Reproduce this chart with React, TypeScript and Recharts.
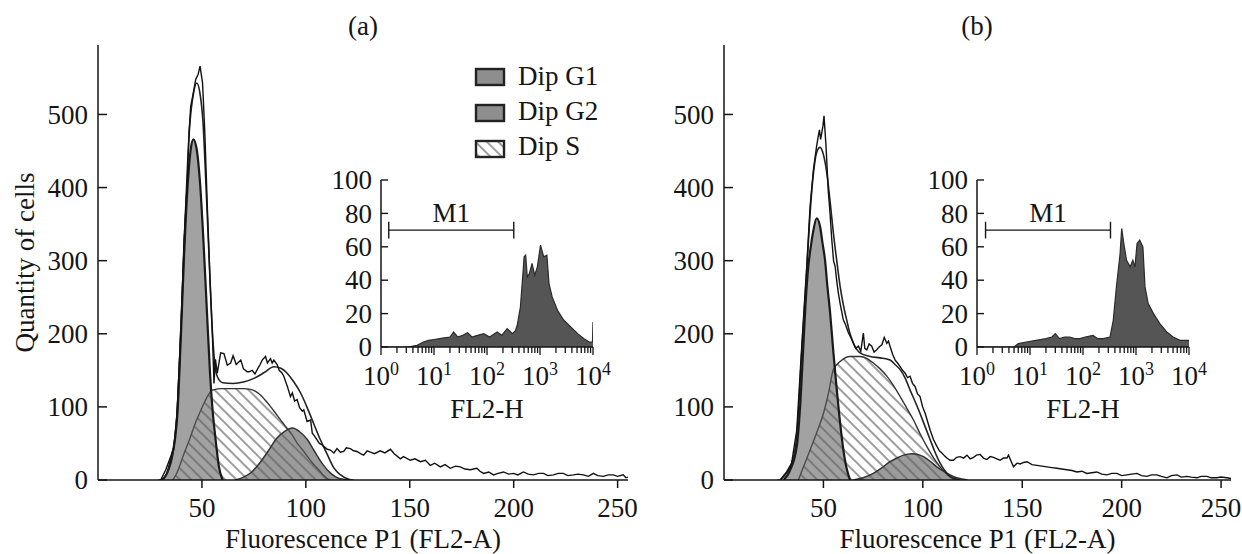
import { Area, ComposedChart, Line, ReferenceLine, XAxis, YAxis } from "recharts";

const FONT = '"Liberation Serif", "Times New Roman", serif';
const INK = "#151515";
const FS = 27;

// panel (a): DNA histogram, channel / cells
const rawA: [number, number][] = [
  [29, 0], [30.2, 0], [32.6, 14], [35, 32], [36.5, 45], [38, 90], [40, 210], [41.4, 329], [43, 411], [43.8, 475],
  [44.6, 511], [45.9, 530], [47, 548], [48.2, 555], [49.1, 566], [50.3, 543], [51.4, 475], [52.6, 374], [53.9, 274],
  [55, 201], [55.8, 132], [56.5, 165], [57.4, 146], [59, 174], [60.6, 173], [62.2, 157], [63.8, 160], [65, 170],
  [66.5, 158], [68.7, 164], [70, 152], [71.8, 148], [72.6, 148], [74.2, 150], [75.5, 145], [76.6, 151], [78, 158],
  [79, 164], [80.6, 169], [81.5, 160], [83, 166], [83.8, 160], [84.6, 164], [86.2, 158], [87.2, 150], [88.6, 146],
  [89.4, 142], [91.1, 128], [92.6, 114], [93.5, 119], [94.6, 108], [95.8, 110], [97, 99], [98.3, 94], [99, 96],
  [100.6, 80], [102.3, 82], [103.1, 64], [104.2, 60], [105.4, 55], [106.5, 50], [107.9, 48], [108.6, 46], [110.3, 42],
  [111.8, 41], [113.5, 37], [115, 43], [116.6, 38], [118.2, 39], [119.5, 44], [121.4, 43], [123, 40], [124.6, 39],
  [126.3, 36], [127.8, 34], [129.5, 40], [131.1, 38], [133, 36], [135.8, 40], [138, 37], [140.7, 42], [142.5, 36],
  [145.5, 29], [147, 32], [150.3, 27], [152.5, 29], [155.1, 25], [157.5, 27], [159.9, 20], [162, 23], [164.7, 18],
  [167, 21], [169.5, 16], [172, 19], [174.3, 18], [176.5, 15], [179.1, 14], [182.3, 16], [183.8, 12], [185.5, 9],
  [188, 11], [190.3, 7], [192.5, 9], [195.1, 11], [197.5, 8], [199.9, 9], [202, 7], [204.7, 11], [207, 8], [209.5, 7],
  [212, 9], [214.3, 9], [216.5, 6], [219.1, 7], [221.5, 9], [223.9, 9], [226, 6], [228.7, 7], [231, 8], [233.5, 7],
  [236, 5], [238.3, 9], [240.5, 6], [243.1, 5], [245.5, 7], [247.9, 7], [250, 5], [252.7, 7], [254, 3], [255, 4],
];
const fitA: [number, number][] = [
  [30, 0], [32, 4], [34, 14], [36, 35], [38, 90], [40, 215], [42, 360], [44, 480], [46, 530], [47.5, 543], [49, 530],
  [50.5, 490], [52, 400], [53.5, 300], [55, 205], [56.6, 150], [58, 138], [60, 133], [65, 132], [70, 134], [75, 139],
  [80, 147], [84.6, 155], [88, 153], [91, 146], [94, 135], [97.5, 119], [100.5, 100], [103.8, 77], [107, 55],
  [110.3, 35], [113.4, 17], [116.7, 7], [120.7, 1], [123, 0],
];
const g1A: [number, number][] = [
  [31, 0], [33, 8], [35, 27], [37, 55], [38.2, 90], [39.8, 192], [41.4, 306], [43, 397], [44.6, 452], [45.9, 466],
  [47.5, 452], [49.1, 406], [50.7, 329], [52.3, 237], [53.9, 146], [55, 100], [56.6, 55], [58.2, 18], [60, 0],
];
const sA: [number, number][] = [
  [36, 0], [38, 10], [41.5, 37], [44, 55], [46.2, 73], [48.5, 89], [51, 105], [53, 116], [55, 123], [60, 125],
  [65, 125], [70, 125], [73.4, 124], [76, 121], [78.3, 116], [80.5, 109], [83.1, 100], [85.5, 91], [87.9, 82],
  [90, 74], [91.8, 68], [94, 59], [95.9, 50], [98.5, 41], [100.8, 32], [103, 24], [105.5, 16], [108, 8], [110.3, 2],
  [112, 0],
];
const g2A: [number, number][] = [
  [66, 0], [70, 4], [74, 11], [78, 24], [82, 40], [86, 57], [90, 67], [93.5, 71], [97, 66], [100.8, 55], [104, 40],
  [108, 22], [112, 9], [116, 2], [118, 1], [121, 0],
];

// panel (b)
const rawB: [number, number][] = [
  [27, 0], [28.2, 0], [31.5, 11], [34, 23], [36.6, 68], [39.1, 183], [41.6, 292], [43.3, 374], [45, 425], [46.6, 457],
  [47.4, 470], [48, 479], [48.6, 466], [49.2, 475], [49.8, 485], [50.3, 498], [51.3, 457], [52.5, 393], [53.2, 370],
  [54.2, 329], [55.1, 300], [55.9, 292], [56.8, 270], [57.5, 256], [58.5, 240], [60, 219], [61.2, 212], [62.6, 201],
  [63.8, 195], [65.1, 187], [66.2, 180], [67.6, 183], [68.8, 176], [70.1, 201], [70.8, 180], [71.8, 178], [73, 186],
  [74.3, 183], [75.5, 175], [76.8, 178], [78, 182], [79.4, 185], [80.6, 195], [81.9, 187], [82.7, 190], [83.5, 183],
  [84.8, 172], [86.1, 164], [87.3, 160], [88.6, 155], [89.8, 150], [91.1, 146], [92.3, 140], [93.6, 142], [94.8, 132],
  [96.1, 128], [97.3, 118], [98.6, 114], [99.9, 100], [101.2, 91], [102.4, 80], [103.7, 68], [105.4, 55], [107.1, 46],
  [108.3, 40], [109.6, 37], [110.9, 33], [112.1, 30], [113.7, 27], [115.4, 27], [117, 31], [118.8, 32], [120.5, 30],
  [122.2, 34], [123.8, 29], [125.5, 31], [127, 34], [128.8, 35], [130.5, 30], [132.2, 28], [133.9, 32], [135.6, 31],
  [137.2, 29], [138.9, 27], [140.5, 30], [142.3, 30], [143.1, 34], [144.5, 25], [145.6, 18], [147.4, 23], [149, 22],
  [150.7, 24], [152.4, 25], [154.9, 21], [157.4, 20], [159.9, 19], [162.4, 18], [164.9, 17], [167.4, 16], [169.9, 15],
  [172.4, 14], [175, 13], [177.5, 11], [180, 12], [182.5, 9], [185, 10], [187.5, 11], [190, 8], [192.6, 7], [195, 9],
  [197.6, 9], [200, 6], [202.6, 7], [205, 8], [207.7, 9], [210, 6], [212.7, 5], [215, 7], [217.7, 7], [220, 5],
  [222.8, 3], [225, 6], [227.8, 7], [230, 4], [232.8, 5], [235, 4], [237.9, 3], [240, 5], [242.9, 5], [245, 3],
  [247.9, 3], [250, 4], [252.9, 3], [255, 2],
];
const fitB: [number, number][] = [
  [28.5, 0], [31.5, 10], [34, 22], [36.6, 60], [39.1, 175], [41.6, 285], [43.3, 365], [45, 420], [46.6, 448],
  [48.3, 455], [50, 445], [51.7, 420], [53.4, 380], [55, 338], [56.7, 300], [58.4, 265], [60, 240], [61.7, 219],
  [63.4, 200], [65.1, 187], [68.4, 174], [73.5, 169], [78.5, 167], [83.5, 164], [86, 158], [88.6, 151], [91, 140],
  [93.6, 123], [96, 108], [98.6, 91], [101, 74], [103.7, 55], [106, 39], [108.7, 23], [111, 13], [113.7, 5], [116, 2],
  [118.8, 0],
];
const g1B: [number, number][] = [
  [30, 0], [33, 12], [36.6, 46], [38.5, 110], [39.9, 183], [41, 240], [42.4, 292], [43.8, 322], [45, 342], [46.6, 358],
  [48.3, 347], [49.5, 325], [50.8, 301], [52, 265], [53.4, 228], [55, 175], [56.5, 130], [58.4, 78], [60, 42],
  [61.5, 18], [63.4, 0],
];
const sB: [number, number][] = [
  [37.4, 0], [40, 18], [43.3, 41], [46.5, 64], [50, 91], [52.5, 118], [55, 151], [58.4, 162], [63.4, 169], [68.4, 169],
  [72, 166], [75.1, 160], [78.5, 152], [81.9, 142], [85, 130], [88.6, 114], [92, 98], [95.3, 82], [98.5, 64], [102, 46],
  [105.5, 30], [108.7, 18], [112, 8], [115.4, 2], [117, 0],
];
const g2B: [number, number][] = [
  [65, 0], [70, 3], [75.1, 9], [79, 16], [83.5, 25], [87, 30], [90.3, 34], [94.5, 36], [97.5, 35], [100.3, 32],
  [104, 25], [107, 18], [110.5, 12], [113.7, 7], [117, 3], [120.4, 1], [122.5, 0],
];

// insets: FL2-H (log) / count
const histA: [number, number][] = [
  [1, 0], [3.2, 0], [4.8, 1], [6.3, 3], [7.9, 4], [10, 4.5], [12.6, 5], [15.8, 5.5], [20, 6], [23.4, 9], [28, 6],
  [35, 7], [43, 8.5], [52, 6], [66, 7], [87, 8], [112, 6], [132, 7.5], [155, 9], [190, 7], [240, 11], [302, 8],
  [347, 10], [372, 13], [427, 24], [479, 45], [501, 54], [537, 55], [575, 42], [631, 44], [708, 50], [794, 43],
  [891, 48], [1023, 61], [1175, 54], [1349, 55], [1479, 38], [1698, 30], [2138, 22], [2818, 16], [3802, 12],
  [5129, 8], [6761, 5], [8511, 3], [9772, 3], [10000, 15],
];
const histB: [number, number][] = [
  [1, 0], [5, 0], [6, 2], [8.5, 3], [13, 4], [20, 5], [26, 6], [30, 8], [36, 5], [45, 6], [56, 6], [70, 5], [87, 5],
  [110, 6], [155, 7], [190, 5], [240, 5], [324, 6], [372, 16], [427, 36], [501, 56], [537, 71], [589, 62], [661, 52],
  [776, 48], [871, 52], [955, 48], [1047, 62], [1175, 64], [1349, 60], [1479, 36], [1698, 26], [2138, 20],
  [2818, 14], [3802, 9], [5012, 6], [6761, 4], [10000, 4],
];

const m1A = [1.4, 320];
const m1B = [1.45, 330];
const M1_LEVEL = 70;

const mainXTicks = [50, 100, 150, 200, 250];
const mainYTicks = [0, 100, 200, 300, 400, 500];
const insetYTicks = [0, 20, 40, 60, 80, 100];
const decades = [1, 10, 100, 1000, 10000];
const logTicks = [...decades, ...decades.slice(0, 4).flatMap((d) => [2, 3, 4, 5, 6, 7, 8, 9].map((m) => m * d))];

const legendNames = ["Dip G1", "Dip G2", "Dip S"];

const pts = (arr: [number, number][]) => arr.map(([x, y]) => ({ x, y }));

const textStyle = { fontFamily: FONT };

const MainYTick = (props: any) => {
  const { x, y, payload } = props;
  return (
    <g>
      <line x1={x} y1={y} x2={x + 9} y2={y} stroke={INK} strokeWidth={1.5} />
      <text x={x - 10} y={y} dy="0.34em" textAnchor="end" style={textStyle} fontSize={FS} fill={INK}>
        {payload.value}
      </text>
    </g>
  );
};

const InsetYTick = (props: any) => {
  const { x, y, payload } = props;
  return (
    <g>
      <line x1={x} y1={y} x2={x + 7} y2={y} stroke={INK} strokeWidth={1.4} />
      <text x={x - 9} y={y} dy="0.34em" textAnchor="end" style={textStyle} fontSize={FS} fill={INK}>
        {payload.value}
      </text>
    </g>
  );
};

const LogTick = (props: any) => {
  const { x, y, payload } = props;
  const e = Math.log10(payload.value);
  const major = Math.abs(e - Math.round(e)) < 1e-6;
  return (
    <g>
      <line x1={x} y1={y} x2={x} y2={y + (major ? 8 : 6)} stroke={INK} strokeWidth={1.3} />
      {major && (
        <text x={x} y={y + 38} textAnchor="middle" style={textStyle} fontSize={FS} fill={INK}>
          10
          <tspan dy={-10} fontSize={18}>
            {Math.round(e)}
          </tspan>
        </text>
      )}
    </g>
  );
};

const Hatch = ({ id }: { id: string }) => (
  <pattern id={id} width={8} height={8} patternUnits="userSpaceOnUse" patternTransform="rotate(-45)">
    <rect width={8} height={8} fill="#fff" />
    <line x1={4} y1={0} x2={4} y2={8} stroke="#6a6a6a" strokeWidth={1.3} />
  </pattern>
);

type PanelProps = {
  id: string;
  left: number;
  width: number;
  raw: [number, number][];
  fit: [number, number][];
  g1: [number, number][];
  g2: [number, number][];
  s: [number, number][];
  yLabel?: boolean;
};

const MainPanel = ({ id, left, width, raw, fit, g1, g2, s, yLabel }: PanelProps) => (
  <div style={{ position: "absolute", left, top: 0 }}>
    <ComposedChart width={width} height={554} margin={{ top: 45, right: 11, bottom: 0, left: 0 }}>
      <defs>
        <Hatch id={`hatch-${id}`} />
      </defs>
      <XAxis
        type="number"
        dataKey="x"
        domain={[0, 255]}
        allowDataOverflow
        ticks={mainXTicks}
        interval={0}
        height={74}
        tickSize={8}
        tickMargin={10}
        axisLine={{ stroke: INK, strokeWidth: 1.5 }}
        tickLine={{ stroke: INK, strokeWidth: 1.5 }}
        tick={{ fontFamily: FONT, fontSize: FS, fill: INK }}
        label={{ value: "Fluorescence P1 (FL2-A)", position: "insideBottom", offset: 6, style: textStyle, fontSize: FS, fill: INK }}
      />
      <YAxis
        type="number"
        domain={[0, 595]}
        allowDataOverflow
        ticks={mainYTicks}
        interval={0}
        width={98}
        tickSize={0}
        tickMargin={0}
        tickLine={false}
        tick={<MainYTick />}
        axisLine={{ stroke: INK, strokeWidth: 1.5 }}
        label={
          yLabel
            ? { value: "Quantity of cells", angle: -90, position: "insideLeft", offset: 24, style: { textAnchor: "middle", fontFamily: FONT }, fontSize: FS, fill: INK }
            : undefined
        }
      />
      <Area data={pts(s)} dataKey="y" type="monotone" fill={`url(#hatch-${id})`} fillOpacity={1} stroke="#333" strokeWidth={1.4} isAnimationActive={false} dot={false} activeDot={false} />
      <Area data={pts(g1)} dataKey="y" type="monotone" fill="#5e5e5e" fillOpacity={0.58} stroke="#1a1a1a" strokeWidth={2.2} isAnimationActive={false} dot={false} activeDot={false} />
      <Area data={pts(g2)} dataKey="y" type="monotone" fill="#5e5e5e" fillOpacity={0.62} stroke="#333" strokeWidth={1.5} isAnimationActive={false} dot={false} activeDot={false} />
      <Line data={pts(fit)} dataKey="y" type="monotone" stroke="#222" strokeWidth={1.6} dot={false} activeDot={false} isAnimationActive={false} />
      <Line data={pts(raw)} dataKey="y" type="linear" stroke="#111" strokeWidth={1.4} dot={false} activeDot={false} isAnimationActive={false} />
    </ComposedChart>
  </div>
);

const InsetPanel = ({ left, hist, m1 }: { left: number; hist: [number, number][]; m1: number[] }) => (
  <div style={{ position: "absolute", left, top: 160 }}>
    <ComposedChart width={311} height={270} margin={{ top: 20, right: 18, bottom: 0, left: 0 }}>
      <XAxis
        type="number"
        dataKey="x"
        scale="log"
        domain={[1, 10000]}
        allowDataOverflow
        ticks={logTicks}
        interval={0}
        height={83}
        tickSize={0}
        tickMargin={0}
        tickLine={false}
        tick={<LogTick />}
        axisLine={{ stroke: INK, strokeWidth: 1.5 }}
        label={{ value: "FL2-H", position: "insideBottom", offset: 12, style: textStyle, fontSize: FS, fill: INK }}
      />
      <YAxis
        type="number"
        domain={[0, 100]}
        allowDataOverflow
        ticks={insetYTicks}
        interval={0}
        width={81}
        tickSize={0}
        tickMargin={0}
        tickLine={false}
        tick={<InsetYTick />}
        axisLine={{ stroke: INK, strokeWidth: 1.5 }}
      />
      <Area data={pts(hist)} dataKey="y" type="linear" fill="#555" fillOpacity={1} stroke="#2b2b2b" strokeWidth={1.2} isAnimationActive={false} dot={false} activeDot={false} />
      <ReferenceLine
        segment={[{ x: m1[0], y: M1_LEVEL }, { x: m1[1], y: M1_LEVEL }]}
        stroke={INK}
        strokeWidth={1.4}
        label={{ value: "M1", position: "top", offset: 8, style: textStyle, fontSize: FS, fill: INK }}
      />
      <ReferenceLine segment={[{ x: m1[0], y: M1_LEVEL - 5 }, { x: m1[0], y: M1_LEVEL + 5 }]} stroke={INK} strokeWidth={1.4} />
      <ReferenceLine segment={[{ x: m1[1], y: M1_LEVEL - 5 }, { x: m1[1], y: M1_LEVEL + 5 }]} stroke={INK} strokeWidth={1.4} />
    </ComposedChart>
  </div>
);

const Overlay = () => (
  <svg width={1242} height={554} style={{ position: "absolute", left: 0, top: 0, pointerEvents: "none" }}>
    <defs>
      <Hatch id="hatch-legend" />
    </defs>
    <text x={363} y={35} textAnchor="middle" style={textStyle} fontSize={FS} fill={INK}>(a)</text>
    <text x={977} y={35} textAnchor="middle" style={textStyle} fontSize={FS} fill={INK}>(b)</text>
    {legendNames.map((name, i) => (
      <g key={name}>
        <rect
          x={476}
          y={69 + i * 36}
          width={28}
          height={16}
          fill={i === 2 ? "url(#hatch-legend)" : "#8e8e8e"}
          stroke="#222"
          strokeWidth={2.4}
        />
        <text x={518} y={85 + i * 35} style={textStyle} fontSize={FS} fill={INK}>
          {name}
        </text>
      </g>
    ))}
  </svg>
);

export default function App() {
  return (
    <div style={{ position: "absolute", left: 0, top: 0, width: 1242, height: 554, background: "#fff", overflow: "hidden" }}>
      <MainPanel id="a" left={0} width={639} raw={rawA} fit={fitA} g1={g1A} g2={g2A} s={sA} yLabel />
      <MainPanel id="b" left={626} width={616} raw={rawB} fit={fitB} g1={g1B} g2={g2B} s={sB} />
      <InsetPanel left={300} hist={histA} m1={m1A} />
      <InsetPanel left={896} hist={histB} m1={m1B} />
      <Overlay />
    </div>
  );
}
